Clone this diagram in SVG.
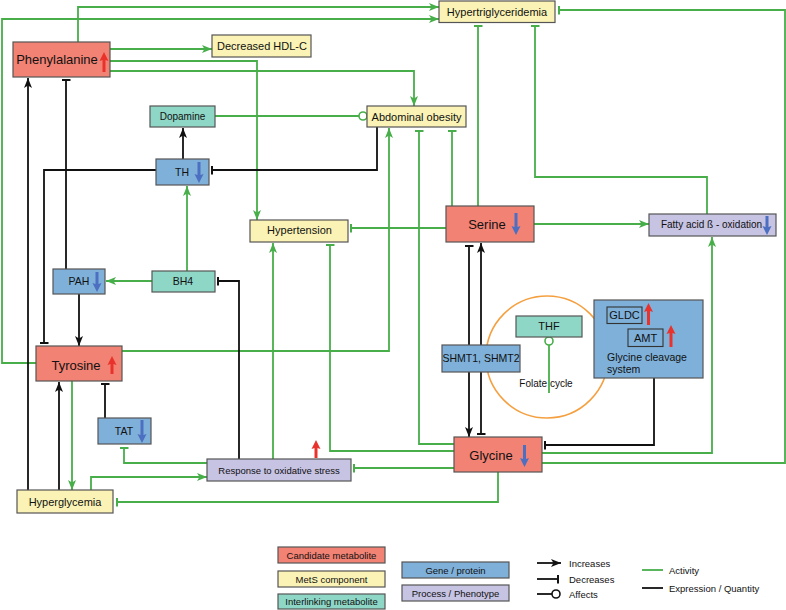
<svg xmlns="http://www.w3.org/2000/svg" width="786" height="610" viewBox="0 0 786 610">
<style>
text{font-family:"Liberation Sans",Arial,sans-serif;fill:#111}
.n{stroke:#555;stroke-width:1.2}
.cand{fill:#f28274}
.mets{fill:#faf3b5}
.inter{fill:#8ed6c6}
.gene{fill:#7eb0d9}
.proc{fill:#c6c3e3}
.g{fill:none;stroke:#47ae4a;stroke-width:1.8}
.k{fill:none;stroke:#111;stroke-width:1.8}
.ga{marker-end:url(#ag)}
.gt{marker-end:url(#tg)}
.ka{marker-end:url(#ak)}
.kt{marker-end:url(#tk)}
.red{fill:#e8322b}
.blue{fill:#4c6fc1}
.c{text-anchor:middle}
</style>
<defs>
<marker id="ag" viewBox="0 0 10 8" refX="10" refY="4" markerWidth="10" markerHeight="8" markerUnits="userSpaceOnUse" orient="auto"><path d="M0,0 L10,4 L0,8 L2.5,4 z" fill="#47ae4a"/></marker>
<marker id="ak" viewBox="0 0 10 8" refX="10" refY="4" markerWidth="10" markerHeight="8" markerUnits="userSpaceOnUse" orient="auto"><path d="M0,0 L10,4 L0,8 L2.5,4 z" fill="#111"/></marker>
<marker id="tg" viewBox="0 0 2 9" refX="1" refY="4.5" markerWidth="2" markerHeight="9" markerUnits="userSpaceOnUse" orient="auto"><rect x="0" y="0" width="2" height="9" fill="#47ae4a"/></marker>
<marker id="tk" viewBox="0 0 2 9" refX="1" refY="4.5" markerWidth="2" markerHeight="9" markerUnits="userSpaceOnUse" orient="auto"><rect x="0" y="0" width="2" height="9" fill="#111"/></marker>
<marker id="cg" viewBox="0 0 10 10" refX="9" refY="5" markerWidth="10" markerHeight="10" markerUnits="userSpaceOnUse" orient="auto"><circle cx="5" cy="5" r="4" fill="#fff" stroke="#47ae4a" stroke-width="1.6"/></marker>
<marker id="ck" viewBox="0 0 10 10" refX="9" refY="5" markerWidth="10" markerHeight="10" markerUnits="userSpaceOnUse" orient="auto"><circle cx="5" cy="5" r="4" fill="#fff" stroke="#111" stroke-width="1.6"/></marker>
</defs>

<g id="connectors">
<!-- green activity -->
<path class="g ga" d="M78,42 V7 H439"/>
<path class="g ga" d="M36,363 H2 V19 H439"/>
<path class="g ga" d="M110,49 H212"/>
<path class="g ga" d="M110,61 H257 V220"/>
<path class="g ga" d="M110,71 H414 V106"/>
<path class="g" style="marker-end:url(#cg)" d="M215,116 H367"/>
<path class="g ga" d="M122,351 H389 V128"/>
<path class="g gt" d="M452,206 V131"/>
<path class="g gt" d="M454,444 H419 V131"/>
<path class="g gt" d="M478,206 V26"/>
<path class="g gt" d="M707,214 V177 H535 V26"/>
<path class="g gt" d="M542,463 H785 V10 H559"/>
<path class="g ga" d="M542,453 H712 V237"/>
<path class="g ga" d="M534,224 H649"/>
<path class="g gt" d="M446,228 H351"/>
<path class="g gt" d="M454,451 H330 V245"/>
<path class="g ga" d="M273,459 V243"/>
<path class="g gt" d="M454,468 H354"/>
<path class="g gt" d="M498,472 V502 H117"/>
<path class="g gt" d="M207,463 H124 V448"/>
<path class="g ga" d="M91,490 V477 H207"/>
<path class="g ga" d="M72,381 V490"/>
<path class="g ga" d="M152,281 H106"/>
<path class="g ga" d="M187,271 V186"/>
<path class="g" style="marker-end:url(#cg)" d="M549,393 V337"/>
<!-- black expression -->
<path class="k ka" d="M28,490 V78"/>
<path class="k ka" d="M59,490 V382"/>
<path class="k kt" d="M66,269 V80"/>
<path class="k kt" d="M377,127 V170 H212"/>
<path class="k kt" d="M156,170 H44 V343"/>
<path class="k ka" d="M183,159 V128"/>
<path class="k ka" d="M79,294 V346"/>
<path class="k kt" d="M105,418 V384"/>
<path class="k kt" d="M239,459 V281 H218"/>
<path class="k ka" style="marker-start:url(#tk)" d="M469,246 V437"/>
<path class="k ka" style="marker-start:url(#tk)" d="M481,434 V243"/>
<path class="k kt" d="M654,378 V445 H545"/>
</g>

<g id="folate-cycle">
<circle cx="547" cy="357" r="61" fill="none" stroke="#f5a040" stroke-width="1.6"/>
<text x="546" y="386.5" font-size="10" class="c">Folate cycle</text>
</g>

<g id="phenylalanine">
<rect class="n cand" x="13" y="42" width="97" height="35"/>
<text x="57" y="64" font-size="13" class="c">Phenylalanine</text>
<path class="red" d="M104,52 L108.5,61 L105.5,60 V72 H102.5 V60 L99.5,61 Z"/>
</g>
<g id="decreased-hdl">
<rect class="n mets" x="212" y="35" width="99" height="22"/>
<text x="262" y="50" font-size="11" class="c">Decreased HDL-C</text>
</g>
<g id="hypertriglyceridemia">
<rect class="n mets" x="439" y="1" width="116" height="21.5"/>
<text x="497" y="15.5" font-size="11" class="c">Hypertriglyceridemia</text>
</g>
<g id="dopamine">
<rect class="n inter" x="150" y="106" width="65" height="21"/>
<text x="182.5" y="120" font-size="10" class="c">Dopamine</text>
</g>
<g id="abdominal-obesity">
<rect class="n mets" x="367" y="106" width="99" height="21"/>
<text x="416.5" y="120.5" font-size="11" class="c">Abdominal obesity</text>
</g>
<g id="th">
<rect class="n gene" x="156" y="159" width="53" height="26"/>
<text x="182" y="176" font-size="10.5" class="c">TH</text>
<path class="blue" d="M199,183 L203.5,174 L200.5,175 V162 H197.5 V175 L194.5,174 Z"/>
</g>
<g id="hypertension">
<rect class="n mets" x="250" y="220" width="98" height="22"/>
<text x="299.5" y="234" font-size="11" class="c">Hypertension</text>
</g>
<g id="serine">
<rect class="n cand" x="446" y="206" width="88" height="36"/>
<text x="487" y="228.5" font-size="13" class="c">Serine</text>
<path class="blue" d="M516,235 L520.5,226 L517.5,227 V213 H514.5 V227 L511.5,226 Z"/>
</g>
<g id="fatty-acid">
<rect class="n proc" x="649" y="214" width="127" height="22"/>
<text x="711.5" y="228" font-size="10" class="c">Fatty acid ß - oxidation</text>
<path class="blue" d="M767,235 L771.5,226 L768.5,227 V216 H765.5 V227 L762.5,226 Z"/>
</g>
<g id="pah">
<rect class="n gene" x="53" y="269" width="52" height="25"/>
<text x="79" y="285" font-size="10.5" class="c">PAH</text>
<path class="blue" d="M97,292 L101.5,283 L98.5,284 V272 H95.5 V284 L92.5,283 Z"/>
</g>
<g id="bh4">
<rect class="n inter" x="152" y="271" width="63" height="21"/>
<text x="183" y="285" font-size="10.5" class="c">BH4</text>
</g>
<g id="tyrosine">
<rect class="n cand" x="36" y="346" width="86" height="35"/>
<text x="76" y="369.5" font-size="13" class="c">Tyrosine</text>
<path class="red" d="M112,356 L116.5,365 L113.5,364 V374 H110.5 V364 L107.5,365 Z"/>
</g>
<g id="thf">
<rect class="n inter" x="516" y="316" width="66" height="21"/>
<text x="549" y="330" font-size="11" class="c">THF</text>
</g>
<g id="shmt">
<rect class="n gene" x="442" y="345" width="78" height="27"/>
<text x="481" y="362" font-size="10.5" class="c">SHMT1, SHMT2</text>
</g>
<g id="glycine-cleavage">
<rect class="n gene" x="594" y="300" width="109" height="78"/>
<rect x="607" y="307" width="35" height="16.5" fill="none" stroke="#333" stroke-width="1.1"/>
<text x="624.5" y="319" font-size="11" class="c">GLDC</text>
<path class="red" d="M648.5,303 L653,312 L650,311 V325 H647 V311 L644,312 Z"/>
<rect x="628" y="329" width="35" height="17.5" fill="none" stroke="#333" stroke-width="1.1"/>
<text x="645.5" y="341.5" font-size="11" class="c">AMT</text>
<path class="red" d="M671,325 L675.5,334 L672.5,333 V347 H669.5 V333 L666.5,334 Z"/>
<text x="607" y="361" font-size="10.5">Glycine cleavage</text>
<text x="607" y="373" font-size="10.5">system</text>
</g>
<g id="tat">
<rect class="n gene" x="98" y="418" width="53" height="26"/>
<text x="124" y="435" font-size="10.5" class="c">TAT</text>
<path class="blue" d="M142,443 L146.5,434 L143.5,435 V420 H140.5 V435 L137.5,434 Z"/>
</g>
<g id="oxidative-stress">
<rect class="n proc" x="207" y="459" width="144" height="22"/>
<text x="279" y="474" font-size="9.5" class="c">Response to oxidative stress</text>
<path class="red" d="M316,440 L320.5,449 L317.5,448 V458 H314.5 V448 L311.5,449 Z"/>
</g>
<g id="glycine">
<rect class="n cand" x="454" y="437" width="88" height="35"/>
<text x="491" y="459.5" font-size="13" class="c">Glycine</text>
<path class="blue" d="M524.5,467 L529,458 L526,459 V445 H523 V459 L520,458 Z"/>
</g>
<g id="hyperglycemia">
<rect class="n mets" x="17" y="490" width="96" height="23"/>
<text x="65" y="506" font-size="11" class="c">Hyperglycemia</text>
</g>

<g id="legend">
<rect class="n cand" x="278" y="547" width="107" height="16"/>
<text x="331.5" y="558.5" font-size="9.5" class="c">Candidate metabolite</text>
<rect class="n mets" x="278" y="571" width="107" height="16"/>
<text x="331.5" y="582.5" font-size="9.5" class="c">MetS component</text>
<rect class="n inter" x="278" y="594" width="107" height="15"/>
<text x="331.5" y="605" font-size="9.5" class="c">Interlinking metabolite</text>
<rect class="n gene" x="402" y="562" width="107" height="16"/>
<text x="455.5" y="573.5" font-size="9.5" class="c">Gene / protein</text>
<rect class="n proc" x="402" y="585" width="107" height="16"/>
<text x="455.5" y="596.5" font-size="9.5" class="c">Process / Phenotype</text>
<path class="k ka" d="M537,563 H561"/>
<text x="569" y="566.5" font-size="9.5">Increases</text>
<path class="k kt" d="M537,579 H558"/>
<text x="569" y="582.5" font-size="9.5">Decreases</text>
<path class="k" style="marker-end:url(#ck)" d="M537,594 H560"/>
<text x="569" y="598" font-size="9.5">Affects</text>
<path class="g" d="M642,570 H663"/>
<text x="669" y="573.5" font-size="9.5">Activity</text>
<path class="k" d="M642,588 H663"/>
<text x="669" y="591.5" font-size="9.5">Expression / Quantity</text>
</g>
</svg>
